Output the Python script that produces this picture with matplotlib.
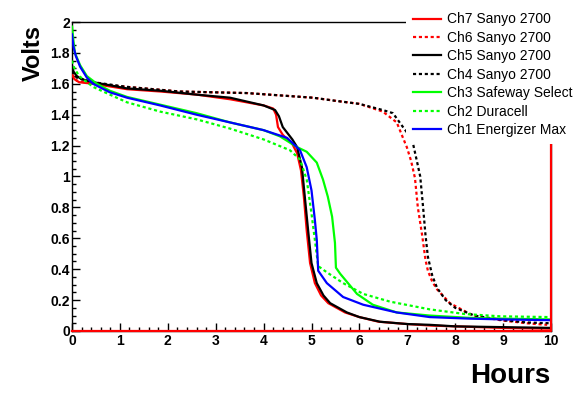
import matplotlib
matplotlib.use("Agg")
import matplotlib.pyplot as plt
from matplotlib.ticker import MultipleLocator

# ---- data (hours, volts) ----
ch7_x = [0, 0.05, 0.15, 0.45, 1.15, 1.85, 2.6, 3.3, 4.0, 4.2, 4.26, 4.3, 4.4, 4.6, 4.7, 4.78, 4.84, 4.9, 4.97, 5.07, 5.2, 5.35, 5.7, 6.0, 6.4, 7.0, 7.5, 8.0, 9.0, 9.99]
ch7_y = [1.66, 1.63, 1.61, 1.60, 1.565, 1.55, 1.53, 1.50, 1.46, 1.44, 1.40, 1.32, 1.27, 1.21, 1.15, 1.04, 0.87, 0.65, 0.44, 0.31, 0.23, 0.18, 0.12, 0.09, 0.06, 0.045, 0.035, 0.03, 0.02, 0.015]
ch7_base_x = [0, 10, 10]
ch7_base_y = [0, 0, 1.25]

ch6_x = [0, 0.1, 0.45, 1.15, 2.25, 3.65, 5.03, 5.5, 6.0, 6.49, 6.78, 6.91, 6.99, 7.08, 7.16, 7.22, 7.31, 7.38, 7.43, 7.52, 7.62, 7.89, 8.37, 8.94, 9.5, 9.92]
ch6_y = [1.66, 1.62, 1.60, 1.58, 1.55, 1.54, 1.51, 1.49, 1.47, 1.42, 1.35, 1.25, 1.19, 1.10, 0.99, 0.80, 0.62, 0.46, 0.39, 0.32, 0.27, 0.18, 0.10, 0.07, 0.05, 0.04]

ch5_x = [0, 0.03, 0.1, 0.2, 0.45, 1.15, 1.85, 2.6, 3.3, 4.0, 4.24, 4.32, 4.4, 4.6, 4.7, 4.8, 4.86, 4.93, 5.0, 5.11, 5.25, 5.39, 5.74, 6.0, 6.43, 7.0, 7.47, 8.0, 9.0, 10.0]
ch5_y = [1.72, 1.68, 1.65, 1.63, 1.61, 1.57, 1.555, 1.53, 1.51, 1.46, 1.43, 1.39, 1.32, 1.24, 1.19, 1.06, 0.87, 0.65, 0.44, 0.31, 0.23, 0.18, 0.12, 0.09, 0.06, 0.045, 0.04, 0.03, 0.025, 0.02]

ch4_x = [0, 0.1, 0.45, 1.15, 2.25, 3.65, 5.03, 5.5, 6.0, 6.49, 6.7, 6.91, 7.1, 7.2, 7.27, 7.33, 7.38, 7.43, 7.52, 7.62, 7.8, 8.0, 8.4, 9.0, 9.5, 10]
ch4_y = [1.68, 1.64, 1.61, 1.58, 1.55, 1.54, 1.51, 1.49, 1.47, 1.43, 1.41, 1.32, 1.24, 1.10, 1.00, 0.80, 0.62, 0.48, 0.36, 0.28, 0.20, 0.15, 0.10, 0.07, 0.055, 0.05]

ch3_x = [0, 0.03, 0.06, 0.17, 0.31, 0.52, 0.79, 1.15, 1.84, 2.6, 3.3, 4.0, 4.34, 4.7, 4.9, 5.11, 5.24, 5.34, 5.43, 5.49, 5.51, 5.6, 5.95, 6.28, 6.78, 7.47, 8.3, 9.0, 10]
ch3_y = [1.97, 1.88, 1.80, 1.72, 1.65, 1.60, 1.555, 1.515, 1.465, 1.41, 1.35, 1.30, 1.26, 1.19, 1.16, 1.09, 0.98, 0.87, 0.74, 0.57, 0.41, 0.37, 0.24, 0.17, 0.12, 0.10, 0.085, 0.08, 0.075]

ch2_x = [0, 0.05, 0.15, 0.44, 0.79, 1.15, 1.84, 2.6, 3.3, 4.0, 4.55, 4.76, 4.9, 5.0, 5.07, 5.14, 5.32, 5.66, 6.08, 6.64, 7.47, 8.2, 8.94, 10]
ch2_y = [1.75, 1.70, 1.65, 1.58, 1.53, 1.48, 1.42, 1.37, 1.31, 1.24, 1.17, 1.11, 0.98, 0.76, 0.59, 0.42, 0.38, 0.31, 0.24, 0.19, 0.14, 0.11, 0.095, 0.09]

ch1_x = [0, 0.03, 0.08, 0.17, 0.31, 0.44, 0.79, 1.15, 1.84, 2.6, 3.3, 4.0, 4.49, 4.76, 4.9, 5.0, 5.07, 5.11, 5.14, 5.32, 5.66, 6.08, 6.78, 7.47, 8.3, 9.0, 10]
ch1_y = [1.92, 1.84, 1.78, 1.71, 1.64, 1.60, 1.545, 1.51, 1.46, 1.40, 1.35, 1.30, 1.25, 1.17, 1.06, 0.91, 0.72, 0.59, 0.39, 0.31, 0.22, 0.17, 0.12, 0.09, 0.08, 0.075, 0.07]

labels = ["Ch7 Sanyo 2700", "Ch6 Sanyo 2700", "Ch5 Sanyo 2700", "Ch4 Sanyo 2700",
          "Ch3 Safeway Select", "Ch2 Duracell", "Ch1 Energizer Max"]
x_label = "Hours"
y_label = "Volts"

plt.rcParams['font.family'] = ['Liberation Sans', 'DejaVu Sans']

W, H = 587, 394
fig = plt.figure(figsize=(W / 100, H / 100), dpi=100)
ax = fig.add_axes([72 / W, 1 - 331 / H, (551 - 72) / W, (331 - 22) / H])

lw = 1.6
dot = (0, (1.4, 1.25))
RED, BLACK, GREEN, BLUE = "#ff0000", "#000000", "#00ff00", "#0000ff"

series = [
    (ch7_x, ch7_y, RED, '-'),
    (ch6_x, ch6_y, RED, dot),
    (ch5_x, ch5_y, BLACK, '-'),
    (ch4_x, ch4_y, BLACK, dot),
    (ch3_x, ch3_y, GREEN, '-'),
    (ch2_x, ch2_y, GREEN, dot),
    (ch1_x, ch1_y, BLUE, '-'),
]
handles = []
for i, (xs, ys, c, ls) in enumerate(series):
    h, = ax.plot(xs, ys, color=c, linestyle=ls, lw=lw, zorder=3 + i * 0.1)
    handles.append(h)

ax.plot(ch7_base_x, ch7_base_y, color=RED, lw=lw, zorder=6, clip_on=False)

ax.set_xlim(0, 10)
ax.set_ylim(0, 2)
ax.xaxis.set_major_locator(MultipleLocator(1))
ax.xaxis.set_minor_locator(MultipleLocator(0.2))
ax.yaxis.set_major_locator(MultipleLocator(0.2))
ax.yaxis.set_minor_locator(MultipleLocator(0.05))
ax.xaxis.set_major_formatter(matplotlib.ticker.FormatStrFormatter('%g'))
ax.yaxis.set_major_formatter(matplotlib.ticker.FormatStrFormatter('%g'))
ax.tick_params(which='both', direction='in', top=False, right=False, width=1.0, color='black')
ax.tick_params(which='major', length=6)
ax.tick_params(which='minor', length=3)
ax.tick_params(axis='x', which='major', pad=2.5)
ax.tick_params(axis='y', which='major', pad=1.5)
for lab in ax.get_xticklabels() + ax.get_yticklabels():
    lab.set_fontweight('bold')
    lab.set_fontsize(10)
for s in ax.spines.values():
    s.set_linewidth(1.0)

fs = 10
leg = fig.legend(handles, labels, loc='upper left',
                 bbox_to_anchor=(406 / W, 1 - 5.5 / H), bbox_transform=fig.transFigure,
                 fontsize=fs, frameon=True, fancybox=False, framealpha=1,
                 facecolor='white', edgecolor='none',
                 handlelength=2.0, handletextpad=0.48, labelspacing=0.32,
                 borderpad=0.5, borderaxespad=0)
leg.set_zorder(10)

fig.text(33 / W, 1 - 25 / H, y_label, rotation=90, ha='center', va='top',
         fontsize=17, fontweight='bold')
fig.text(550 / W, 1 - 383 / H, x_label, ha='right', va='baseline',
         fontsize=20, fontweight='bold')

fig.savefig("out.png", dpi=100)
